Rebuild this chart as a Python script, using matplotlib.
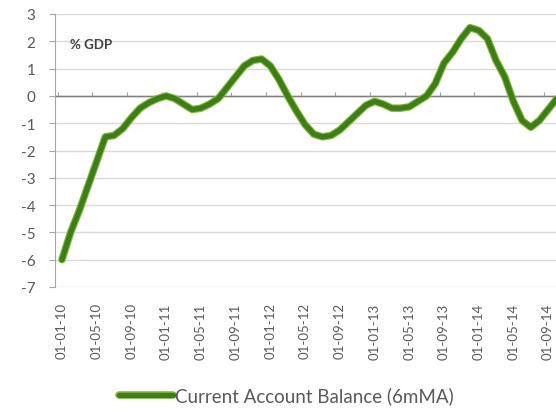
import matplotlib.pyplot as plt
import matplotlib.patheffects as pe

# monthly current account balance, % GDP (6m moving average), Jan 2010 - Oct 2014
balance = [-6.0, -5.0, -4.2, -3.3, -2.4, -1.5, -1.45, -1.2, -0.8, -0.45,
           -0.25, -0.1, 0.0, -0.1, -0.3, -0.5, -0.45, -0.3, -0.1, 0.3,
           0.7, 1.1, 1.3, 1.35, 1.1, 0.6, 0.0, -0.55, -1.05, -1.4,
           -1.5, -1.45, -1.25, -0.95, -0.65, -0.35, -0.2, -0.3, -0.45, -0.45,
           -0.4, -0.2, 0.0, 0.45, 1.2, 1.6, 2.1, 2.5, 2.4, 2.1,
           1.3, 0.7, -0.2, -0.9, -1.15, -0.9, -0.5, -0.1]
date_labels = ['01-01-10', '01-05-10', '01-09-10', '01-01-11', '01-05-11',
               '01-09-11', '01-01-12', '01-05-12', '01-09-12', '01-01-13',
               '01-05-13', '01-09-13', '01-01-14', '01-05-14', '01-09-14']
y_ticks = [3, 2, 1, 0, -1, -2, -3, -4, -5, -6, -7]

plt.rcParams['font.family'] = ['Lato', 'DejaVu Sans']
grey = '#595959'

fig = plt.figure(figsize=(5.56, 4.14), dpi=100)
# axes run past the right edge, like the cropped original
ax = fig.add_axes([55 / 556, 126 / 414, 507 / 556, 273 / 414])

months = list(range(len(balance)))
ax.plot(months, balance, color='#3f7d18', linewidth=3.8, solid_capstyle='round',
        path_effects=[pe.Stroke(linewidth=5.4, foreground='#7fb83a'), pe.Normal()],
        label='Current Account Balance (6mMA)', zorder=3)

ax.set_ylim(-7, 3)
ax.set_xlim(-0.8, 57.6)
ax.set_yticks(y_ticks)
ax.set_yticklabels([str(v) for v in y_ticks], color=grey, fontsize=11)
ax.set_xticks(months[::4])
ax.set_xticklabels(date_labels, rotation=90, color=grey, fontsize=9.5)
ax.tick_params(axis='x', length=0, pad=11)
ax.tick_params(axis='y', length=4, color='#a6a6a6', pad=10)

ax.grid(axis='y', color='#d9d9d9', linewidth=1)
ax.set_axisbelow(True)
for s in ['top', 'right', 'bottom']:
    ax.spines[s].set_visible(False)
ax.spines['left'].set_color('#a6a6a6')
ax.axhline(0, color='#808080', linewidth=1, zorder=2)

# tick marks along the zero line, at category boundaries
zero_axis = ax.secondary_xaxis(0.7)
zero_axis.set_xticks([m - 0.5 for m in months[::4]])
zero_axis.set_xticklabels([])
zero_axis.tick_params(length=3, color='#a0a0a0')
zero_axis.spines['bottom'].set_visible(False)

ax.text(0.03, 0.875, '% GDP', transform=ax.transAxes, fontsize=9.5,
        fontweight='bold', color='#404040')

fig.legend(loc='lower center', bbox_to_anchor=(0.515, -0.02), frameon=False,
           fontsize=13.5, handlelength=2.85, handletextpad=0.1,
           labelcolor=grey)

fig.savefig('out.png', dpi=100)
